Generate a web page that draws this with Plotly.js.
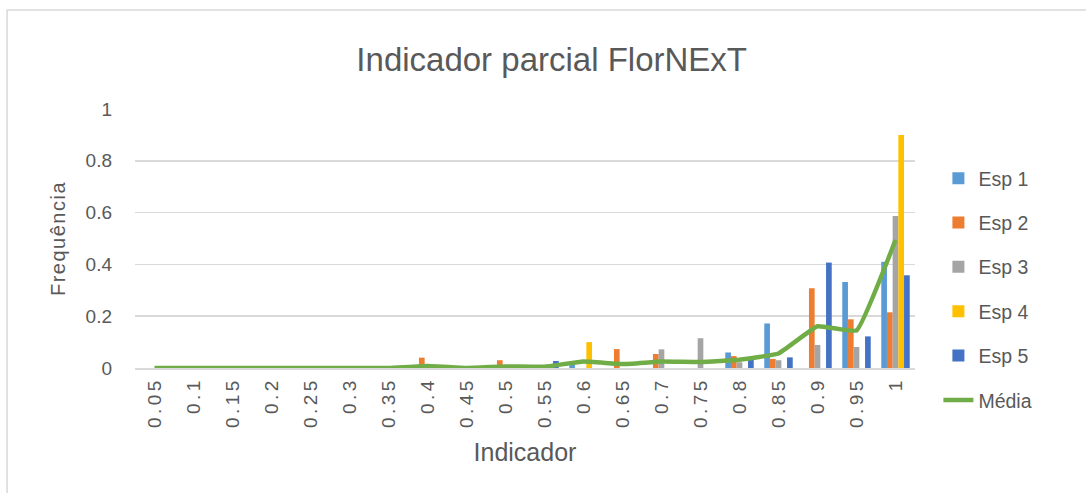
<!DOCTYPE html>
<html>
<head>
<meta charset="utf-8">
<script src="https://cdn.plot.ly/plotly-3.0.1.min.js"></script>
<style>
html,body{margin:0;padding:0;background:#fff;}
#chart{width:1086px;height:493px;}
#chart .xtick text{letter-spacing:3.5px;}
#chart .ytitle{letter-spacing:1.5px;}
</style>
</head>
<body>
<div id="chart"></div>
<script>
const categories = ["0.05","0.1","0.15","0.2","0.25","0.3","0.35","0.4","0.45","0.5","0.55","0.6","0.65","0.7","0.75","0.8","0.85","0.9","0.95","1"];
const esp1 = [0,0,0,0,0,0,0,0,0,0,0,0.012,0,0,0,0.06,0.172,0,0.332,0.41];
const esp2 = [0,0,0,0,0,0,0,0.04,0,0.03,0,0,0.073,0.054,0,0.046,0.035,0.308,0.188,0.215];
const esp3 = [0,0,0,0,0,0,0,0,0,0,0,0,0,0.072,0.115,0.022,0.03,0.089,0.081,0.587];
const esp4 = [0,0,0,0,0,0,0,0,0,0,0,0.1,0,0,0,0,0,0,0,0.9];
const esp5 = [0,0,0,0,0,0,0,0,0,0,0.027,0,0,0,0,0.031,0.041,0.407,0.122,0.358];
const media = [0,0,0,0,0,0,0,0.008,0,0.006,0.005,0.025,0.015,0.025,0.023,0.032,0.056,0.161,0.145,0.494];

const seriesNames = ["Esp 1","Esp 2","Esp 3","Esp 4","Esp 5"];
const seriesData = [esp1, esp2, esp3, esp4, esp5];
const colors = ["#5B9BD5","#ED7D31","#A5A5A5","#FFC000","#4472C4"];

const traces = seriesData.map((d, i) => ({
  type: "bar",
  name: seriesNames[i],
  x: categories,
  y: d,
  marker: {color: colors[i]},
  legendgroup: "g" + i,
  hoverinfo: "x+y+name"
}));
traces.push({
  type: "scatter",
  mode: "lines",
  name: "Média",
  x: categories,
  y: media,
  line: {color: "#70AD47", width: 4.5, shape: "spline", smoothing: 0.3},
  legendgroup: "g5"
});

const font = "Liberation Sans, Arial, sans-serif";
const layout = {
  width: 1086,
  height: 493,
  paper_bgcolor: "#fff",
  plot_bgcolor: "#fff",
  margin: {l: 135, r: 171, t: 109, b: 125},
  barmode: "group",
  bargap: 0.27,
  bargroupgap: 0,
  title: {
    text: "Indicador parcial FlorNExT",
    font: {family: font, size: 33, color: "#595959"},
    x: 0.508, xanchor: "center", y: 0.88, yanchor: "middle"
  },
  xaxis: {
    type: "category",
    tickangle: -90,
    tickfont: {family: font, size: 19, color: "#595959"},
    showgrid: false,
    showline: true,
    linecolor: "#D9D9D9",
    linewidth: 1.5,
    ticks: "",
    title: {text: "Indicador", font: {family: font, size: 25, color: "#595959"}, standoff: 30}
  },
  yaxis: {
    range: [0, 1.0],
    dtick: 0.2,
    tickfont: {family: font, size: 19, color: "#595959"},
    gridcolor: "#D9D9D9",
    gridwidth: 1.5,
    zeroline: false,
    ticks: "",
    ticklabelstandoff: 22,
    title: {text: "Frequência", font: {family: font, size: 20, color: "#595959"}, standoff: 14}
  },
  legend: {
    x: 1.03, xanchor: "left",
    y: 0.307, yanchor: "middle",
    font: {family: font, size: 19.5, color: "#595959"},
    tracegroupgap: 16,
    traceorder: "grouped"
  },
  shapes: [{
    type: "rect", xref: "paper", yref: "paper",
    x0: -0.164, x1: 1.25, y0: -0.6, y1: 1.382,
    line: {color: "#D9D9D9", width: 1.5}, fillcolor: "rgba(0,0,0,0)"
  }]
};

Plotly.newPlot("chart", traces, layout, {displayModeBar: false, staticPlot: true});
</script>
</body>
</html>
